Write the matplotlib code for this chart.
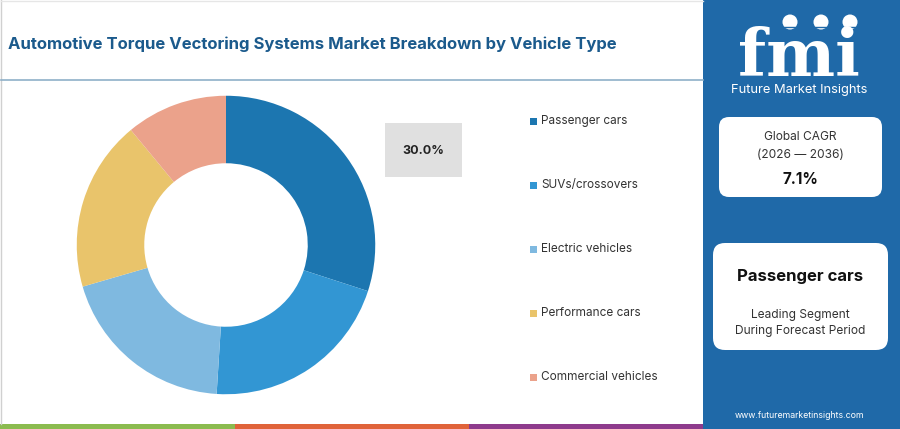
import matplotlib
matplotlib.use("Agg")
import matplotlib.pyplot as plt
from matplotlib.patches import FancyBboxPatch, Rectangle, Circle

plt.rcParams["font.family"] = ["Inter", "DejaVu Sans"]

# data
segments = ["Passenger cars", "SUVs/crossovers", "Electric vehicles",
            "Performance cars", "Commercial vehicles"]
shares = [30.0, 21.0, 19.5, 18.5, 11.0]
colors = ["#1c76b0", "#3296d3", "#7fb9e0", "#e9c46b", "#eba28b"]

title = "Automotive Torque Vectoring Systems Market Breakdown by Vehicle Type"
cagr_label = "Global CAGR"
cagr_period = "(2026 \u2014 2036)"
cagr_value = "7.1%"
leading = "Passenger cars"
website = "www.futuremarketinsights.com"

W, H = 900, 429
fig = plt.figure(figsize=(W / 100, H / 100), dpi=100)
fig.patch.set_facecolor("white")

# overlay axes in pixel coords (y down)
bg = fig.add_axes([0, 0, 1, 1])
bg.set_xlim(0, W)
bg.set_ylim(H, 0)
bg.axis("off")

# left frame + separator
bg.plot([1, 1], [0, 424], color="#d0d0d0", lw=1)
bg.plot([1, 703], [80, 80], color="#8fb0c8", lw=1.2)
bg.plot([1, 703], [1, 1], color="#e6e6e6", lw=1)

# bottom stripes
for x0, x1, c in [(0, 235, "#8bbb4f"), (235, 469, "#e0633a"), (469, 703, "#8e3b8c")]:
    bg.add_patch(Rectangle((x0, 424), x1 - x0, 5, color=c, lw=0))

bg.text(8, 44, title, fontsize=12, fontweight="bold", color="#1b5a8c",
        va="center", ha="left")

# right panel
panel_blue = "#1f69a8"
bg.add_patch(Rectangle((703, 0), W - 703, H, color=panel_blue, lw=0))

# logo
bg.text(799, 76, "fmi", fontsize=47, fontweight="bold", color="white",
        ha="center", va="baseline", family="DejaVu Serif")
for yy in range(27, 78, 5):
    bg.plot([725, 875], [yy, yy], color=panel_blue, lw=1.0)
for cx in [790, 821, 850]:
    bg.add_patch(Circle((cx, 22), 7.5, color="white", lw=0))
bg.text(799, 90, "Future Market Insights", fontsize=9.3, color="white",
        ha="center", va="center")

# cards
bg.add_patch(FancyBboxPatch((719, 117), 163, 80,
             boxstyle="round,pad=0,rounding_size=10", fc="white", ec="none"))
bg.text(800, 137, cagr_label, fontsize=8.6, color="#333333", ha="center", va="center")
bg.text(800, 155, cagr_period, fontsize=8.6, color="#333333", ha="center", va="center")
bg.text(800, 180, cagr_value, fontsize=11, fontweight="bold", color="#111111",
        ha="center", va="center")

bg.add_patch(FancyBboxPatch((713, 243), 175, 107,
             boxstyle="round,pad=0,rounding_size=12", fc="white", ec="none"))
bg.text(800, 277, leading, fontsize=12, fontweight="bold", color="#111111",
        ha="center", va="center")
bg.text(800, 315, "Leading Segment", fontsize=8.6, color="#333333", ha="center", va="center")
bg.text(800, 331, "During Forecast Period", fontsize=8.6, color="#333333",
        ha="center", va="center")

bg.text(800, 415, website, fontsize=6.3, color="white", ha="center", va="center")

# value box
bg.add_patch(Rectangle((385, 123), 77, 54, color="#e0e0e0", lw=0))
bg.text(423.5, 151, f"{shares[0]:.1f}%", fontsize=9, fontweight="bold",
        color="#222222", ha="center", va="center")

# legend
for i, (name, c) in enumerate(zip(segments, colors)):
    y = 121 + i * 64
    bg.add_patch(Rectangle((530, y - 3.5), 7, 7, color=c, lw=0))
    bg.text(541, y, name, fontsize=8.5, color="#333333", ha="left", va="center")

# donut
cx, cy, r = 226, 245, 150
ax = fig.add_axes([(cx - r) / W, (H - cy - r) / H, 2 * r / W, 2 * r / H])
ax.pie(shares, colors=colors, startangle=90, counterclock=False, radius=0.995,
       wedgeprops=dict(width=0.45, edgecolor="none"))
ax.set_xlim(-1, 1)
ax.set_ylim(-1, 1)
ax.set_aspect("equal")
ax.axis("off")

fig.savefig("out.png", dpi=100, facecolor="white")
